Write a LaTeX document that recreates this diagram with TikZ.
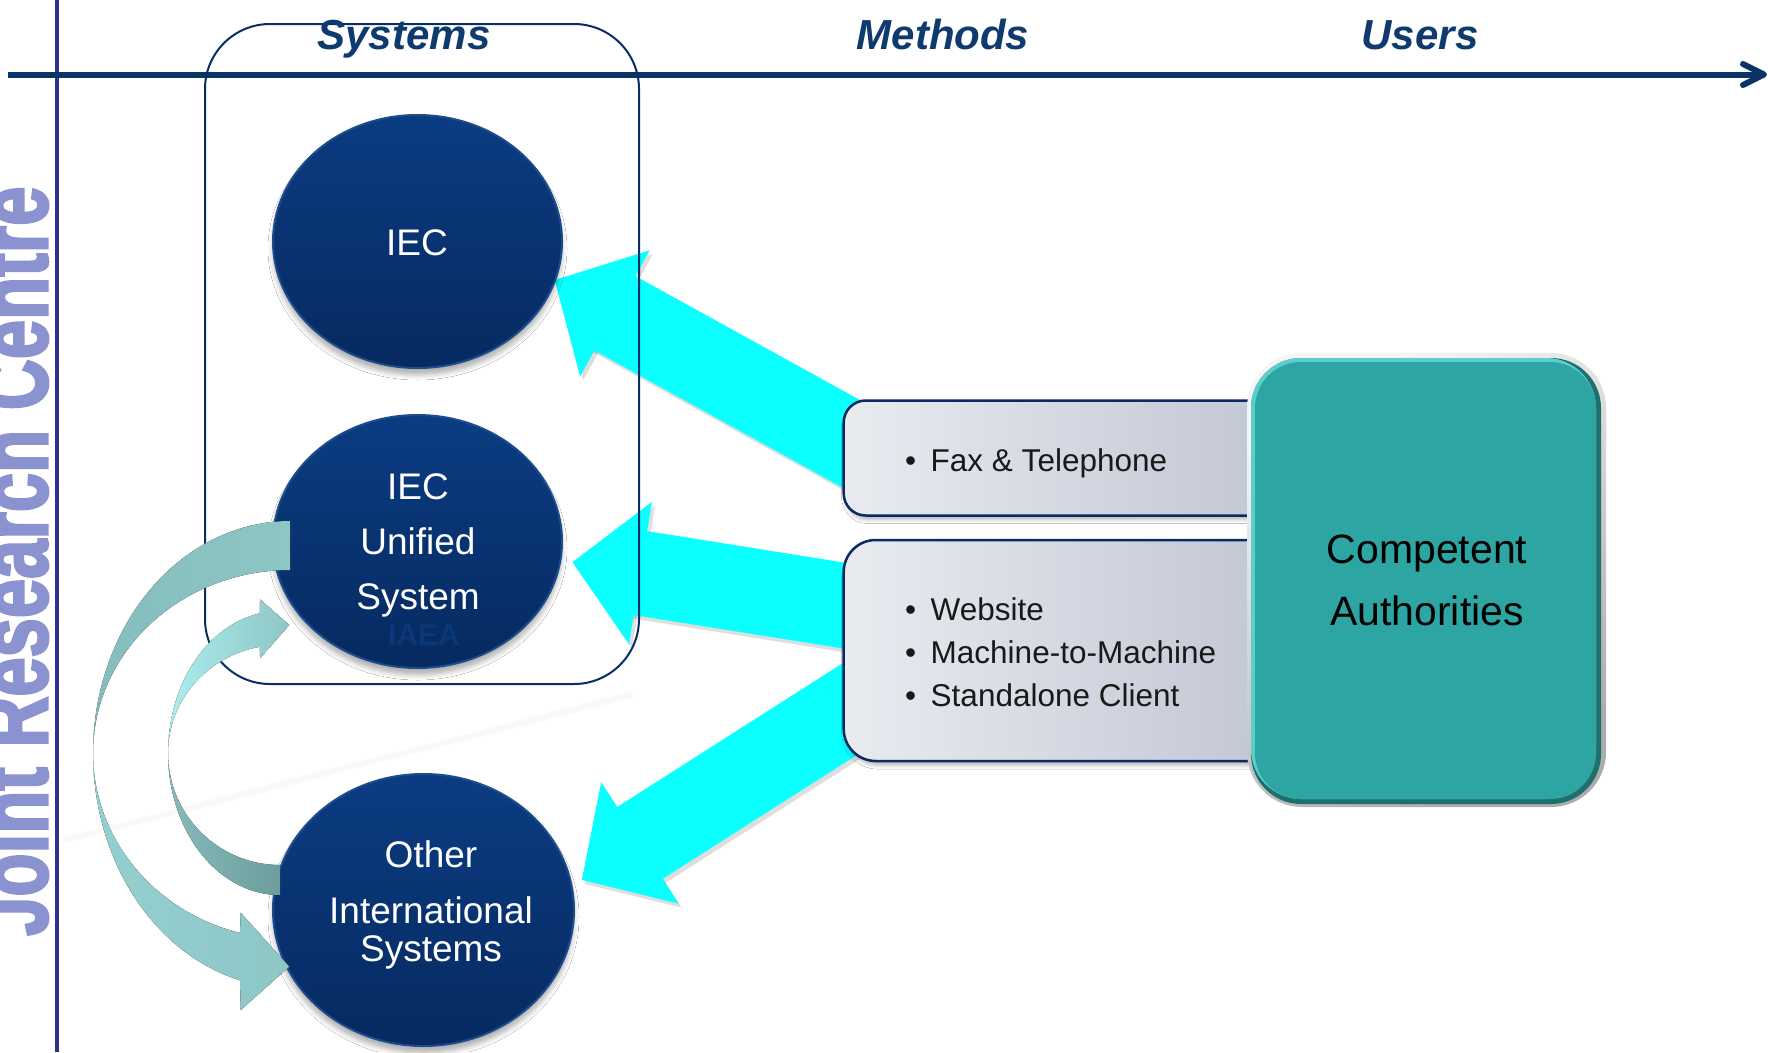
\documentclass[tikz,border=0pt]{standalone}
\usepackage{fontspec}
\usepackage{graphicx}
\setmainfont{Liberation Sans}
\newfontfamily\jrcfont[FakeBold=3]{Liberation Sans Bold}
\usetikzlibrary{arrows.meta,shapes.geometric,shadows.blur,calc}
\definecolor{hdrblue}{HTML}{0E3A6E}
\definecolor{axisblue}{HTML}{0B3466}
\definecolor{vlineblue}{HTML}{2E3192}
\definecolor{jrc}{HTML}{8A92CF}
\definecolor{ellTop}{HTML}{0B3C82}
\definecolor{ellBot}{HTML}{062A60}
\definecolor{ellRim}{HTML}{1D4C8C}
\definecolor{iaea}{HTML}{0A3878}
\definecolor{rectblue}{HTML}{0A2D66}
\definecolor{cyanA}{HTML}{0AFFFF}
\definecolor{boxL}{HTML}{E9EBF0}
\definecolor{boxR}{HTML}{C0C5D3}
\definecolor{boxLine}{HTML}{0B2B60}
\definecolor{tealMain}{HTML}{2CA5A3}
\definecolor{tealDark}{HTML}{1E706E}
\definecolor{tealHi}{HTML}{5ACFCD}
\definecolor{arrD}{HTML}{85BDBD}
\definecolor{arrM}{HTML}{8EC6C6}
\definecolor{arrL}{HTML}{94CFCF}
\definecolor{arrLL}{HTML}{ABEDED}
\definecolor{arrB1}{HTML}{86BBBB}
\definecolor{arrB2}{HTML}{6D9D9D}
\begin{document}
\begin{tikzpicture}[x=1pt,y=-1pt,
  hdr/.style={anchor=base, text=hdrblue, font=\fontsize{42}{50}\selectfont\bfseries\itshape, inner sep=0},
  elltext/.style={anchor=base, text=white, font=\fontsize{37}{44}\selectfont, inner sep=0},
  sysell/.style={ellipse, inner sep=0, top color=ellTop, bottom color=ellBot, draw=ellRim, line width=2pt,
    blur shadow={shadow xshift=0pt, shadow yshift=-7pt, shadow blur radius=5pt, shadow opacity=30}},
  mbox/.style={rectangle, inner sep=0, draw=boxLine, line width=2.5pt, left color=boxL, right color=boxR,
    blur shadow={shadow xshift=2pt, shadow yshift=-4pt, shadow blur radius=4pt, shadow opacity=30}},
  mtext/.style={anchor=base west, inner sep=0, text=black!90, font=\fontsize{31.5}{38}\selectfont},
  catext/.style={anchor=base, inner sep=0, text=black, font=\fontsize{41}{48}\selectfont},
  cyanarrow/.style={draw=cyanA, line width=85pt, -{Triangle[length=69pt, width=140pt]}},
  cyanshadow/.style={draw=black, draw opacity=0.13, line width=85pt, -{Triangle[length=69pt, width=140pt]}},
  axisline/.style={draw=axisblue, line width=6pt},
  carect/.style={rectangle, inner sep=0},
]
\useasboundingbox (0,0) rectangle (1768,1052);
\fill[white] (0,0) rectangle (1768,1052);

% side label and vertical line
\node[rotate=90, anchor=base west, inner sep=0, text=jrc, font=\fontsize{100}{100}\selectfont\jrcfont] (jrclabel) at (47,936) {\scalebox{0.706}[1]{Joint Research Centre}};
\coordinate (vT) at (57,0);
\coordinate (vB) at (57,1052);
\draw[vlineblue, line width=4.5pt] (vT) -- (vB);

% axis
\coordinate (axL) at (8,74.5);
\coordinate (axR) at (1764,74.5);
\draw[axisline] (axL) -- (axR);
\draw[axisline, line cap=round, line join=round] ($(axR)+(-21,-10.5)$) -- (axR) -- ($(axR)+(-21,10.5)$);

% faint reflection streak
\coordinate (r1) at (65,840);
\coordinate (r2) at (630,695);
\draw[gray!5, line width=6pt, line cap=round] (r1) -- (r2);

% cyan arrows
\coordinate (a1s) at (877,458);   \coordinate (a1t) at (554.5,280);
\coordinate (a2s) at (916.7,617.2); \coordinate (a2t) at (572.3,562.1);
\coordinate (a3s) at (876,692.4); \coordinate (a3t) at (581.7,880);
\draw[cyanshadow] ($(a1s)+(3,4)$) -- ($(a1t)+(3,4)$);
\draw[cyanshadow] ($(a2s)+(3,4)$) -- ($(a2t)+(3,4)$);
\draw[cyanshadow] ($(a3s)+(3,4)$) -- ($(a3t)+(3,4)$);
\draw[cyanarrow] (a1s) -- (a1t);
\draw[cyanarrow] (a2s) -- (a2t);
\draw[cyanarrow] (a3s) -- (a3t);

% systems frame
\node[draw=rectblue, line width=2pt, rounded corners=65pt, minimum width=434pt, minimum height=660pt, inner sep=0] (sysbox) at (422,354) {};

% headers
\node[hdr] (hsys) at (404,49) {Systems};
\node[hdr] (hmet) at (943,49) {Methods};
\node[hdr] (husr) at (1420,49) {Users};

% ellipses
\node[sysell, minimum width=289pt, minimum height=253pt] (iec) at (417.5,241.5) {};
\node[elltext] (iect) at (417,255.5) {IEC};
\node[sysell, minimum width=289pt, minimum height=253pt] (ius) at (417.5,541.5) {};
\node[elltext] (iust1) at (418,499.5) {IEC};
\node[elltext] (iust2) at (418,554) {Unified};
\node[elltext] (iust3) at (418,609) {System};
\node[anchor=base, inner sep=0, text=iaea, font=\fontsize{30}{36}\selectfont\bfseries] (iaeat) at (424,645) {IAEA};
\node[sysell, minimum width=301pt, minimum height=272pt] (ois) at (423.5,910) {};
\node[elltext] (oist1) at (431,867) {Other};
\node[elltext] (oist2) at (431,923) {International};
\node[elltext] (oist3) at (431,961) {Systems};

% curved arrows: outer (Unified -> Other)
\fill[left color=arrD, right color=arrM] (290,521)
  -- plot[domain=90:180, samples=40, variable=\t] ({290+197*cos(\t)},{753-232*sin(\t)})
  -- plot[domain=180:90, samples=40, variable=\t] ({290+197*cos(\t)},{753-183*sin(\t)}) -- cycle;
\fill[left color=arrL, right color=arrM] (93,753)
  -- plot[domain=180:255.3, samples=40, variable=\t] ({290+197*cos(\t)},{753-235*sin(\t)})
  -- (240.7,1010) -- (289.3,966.7) -- (240.7,912.7)
  -- plot[domain=255.3:180, samples=40, variable=\t] ({290+197*cos(\t)},{753-186*sin(\t)}) -- cycle;
% curved arrows: inner (Other -> Unified)
\fill[left color=arrB1, right color=arrB2] (168,753)
  -- plot[domain=180:270, samples=40, variable=\t] ({280+112*cos(\t)},{753-142*sin(\t)})
  -- plot[domain=270:180, samples=40, variable=\t] ({280+112*cos(\t)},{753-112*sin(\t)}) -- cycle;
\fill[left color=arrLL, right color=arrM] (168,753)
  -- plot[domain=180:100.3, samples=40, variable=\t] ({280+112*cos(\t)},{753-142*sin(\t)})
  -- (260,599.3) -- (289.3,625) -- (260,658.3)
  -- plot[domain=100.3:180, samples=40, variable=\t] ({280+112*cos(\t)},{753-108*sin(\t)}) -- cycle;

% method boxes
\node[mbox, rounded corners=22pt, minimum width=446.3pt, minimum height=115pt] (fax) at (1066.85,458) {};
\node[mbox, rounded corners=32pt, minimum width=446.3pt, minimum height=221pt] (web) at (1066.85,650.5) {};
\node[mtext] (faxt) at (905,471.4) {\textbullet\hspace{14.5pt}Fax \& Telephone};
\node[mtext] (web1) at (905,620) {\textbullet\hspace{14.5pt}Website};
\node[mtext] (web2) at (905,663) {\textbullet\hspace{14.5pt}Machine-to-Machine};
\node[mtext] (web3) at (905,706) {\textbullet\hspace{14.5pt}Standalone Client};

% competent authorities
\node[carect, rounded corners=55pt, minimum width=359pt, minimum height=454pt, top color=gray!8, bottom color=gray!65, shading angle=30] (caO) at (1426.5,580) {};
\node[carect, rounded corners=50pt, minimum width=350pt, minimum height=446pt, fill=tealDark] (caD) at (1426,581) {};
\node[carect, rounded corners=50pt, minimum width=345pt, minimum height=441pt, fill=tealHi] (caH) at (1423.5,578.5) {};
\node[carect, rounded corners=46pt, minimum width=341pt, minimum height=437pt, fill=tealMain] (ca) at (1425.5,580.5) {};
\node[catext] (cat1) at (1427,563) {Competent};
\node[catext] (cat2) at (1427,625) {Authorities};
\end{tikzpicture}
\end{document}
